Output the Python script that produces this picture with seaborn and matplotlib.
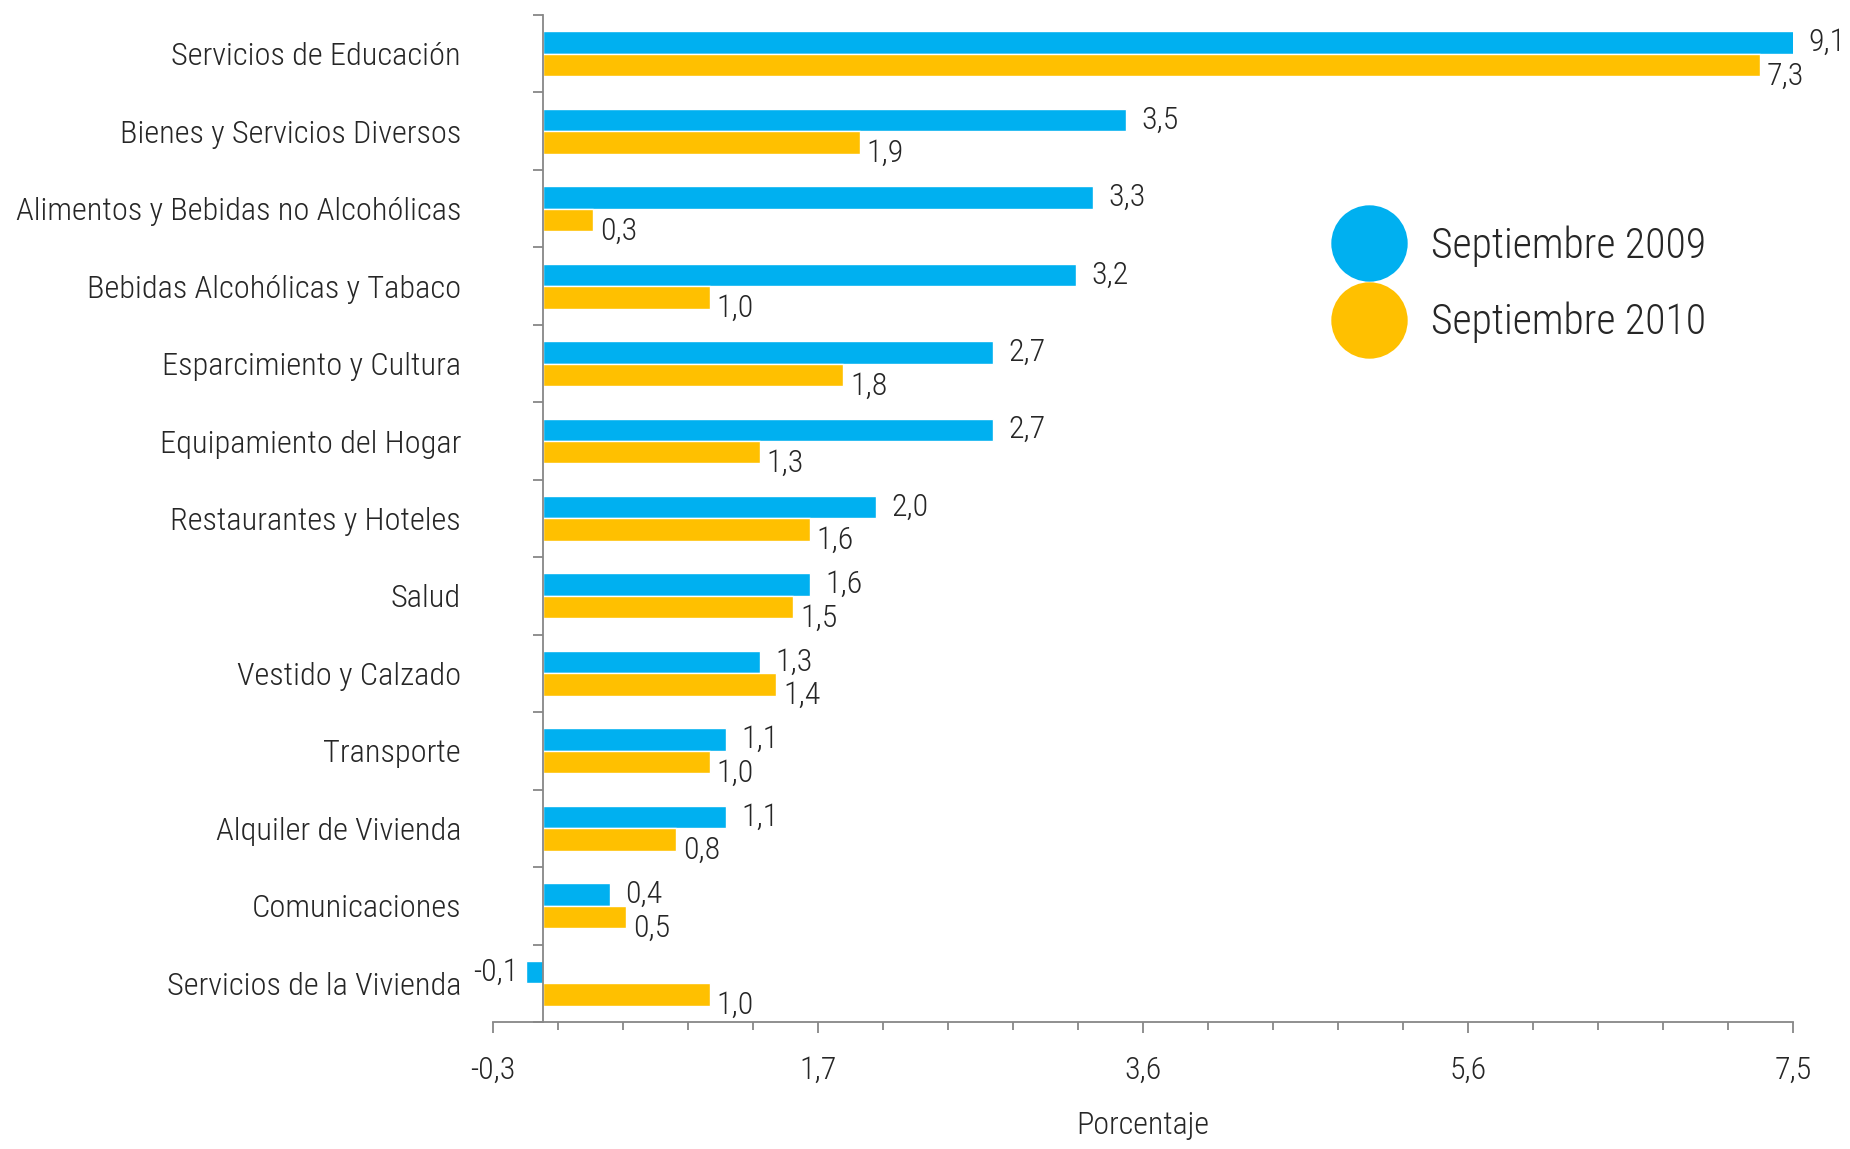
import numpy as np
import pandas as pd
import seaborn as sns
import matplotlib.pyplot as plt
from matplotlib.lines import Line2D

# data
categorias = ["Servicios de Educación", "Bienes y Servicios Diversos",
              "Alimentos y Bebidas no Alcohólicas", "Bebidas Alcohólicas y Tabaco",
              "Esparcimiento y Cultura", "Equipamiento del Hogar",
              "Restaurantes y Hoteles", "Salud", "Vestido y Calzado", "Transporte",
              "Alquiler de Vivienda", "Comunicaciones", "Servicios de la Vivienda"]
sep_2009 = [9.1, 3.5, 3.3, 3.2, 2.7, 2.7, 2.0, 1.6, 1.3, 1.1, 1.1, 0.4, -0.1]
sep_2010 = [7.3, 1.9, 0.3, 1.0, 1.8, 1.3, 1.6, 1.5, 1.4, 1.0, 0.8, 0.5, 1.0]
series = ["Septiembre 2009", "Septiembre 2010"]
xtick_labels = ["-0,3", "1,7", "3,6", "5,6", "7,5"]
x_min, x_max = -0.3, 7.5

azul, amarillo = "#00B0F0", "#FFC000"

sns.set_theme(style="white")
plt.rcParams["font.family"] = ["Roboto Condensed", "DejaVu Sans"]
plt.rcParams["font.weight"] = "light"
plt.rcParams["axes.labelweight"] = "light"

df = pd.DataFrame({
    "categoria": categorias * 2,
    "serie": [series[0]] * len(categorias) + [series[1]] * len(categorias),
    "valor": sep_2009 + sep_2010,
})

fig = plt.figure(figsize=(18.5, 11.49), dpi=100)
ax = fig.add_axes([0.2665, 0.1105, 0.7027, 0.8765])
sns.barplot(data=df, y="categoria", x="valor", hue="serie", orient="h",
            palette=[azul, amarillo], width=0.58, saturation=1, legend=False, ax=ax)

ax.set_xlim(x_min, x_max)
ax.set_ylim(len(categorias) - 0.5, -0.5)

gris = "#878787"
for s in ["top", "right"]:
    ax.spines[s].set_visible(False)
ax.spines["left"].set_position(("data", 0))
for s in ["left", "bottom"]:
    ax.spines[s].set_color(gris)
    ax.spines[s].set_linewidth(1.3)

# y: labels at centres, tick marks at category boundaries
ax.set_yticks(np.arange(len(categorias)))
ax.set_yticklabels(categorias)
ax.set_yticks(np.arange(-0.5, len(categorias), 1), minor=True)
ax.tick_params(axis="y", which="major", length=0, pad=59, labelsize=23.3)
ax.tick_params(axis="y", which="minor", length=7, width=1.3, color=gris, left=True)

ax.set_xticks(np.linspace(x_min, x_max, 5))
ax.set_xticklabels(xtick_labels)
ax.set_xticks(np.linspace(x_min, x_max, 21), minor=True)
ax.tick_params(axis="x", which="major", length=8, width=1.3, color=gris, pad=16,
               labelsize=23, bottom=True)
ax.tick_params(axis="x", which="minor", length=6, width=1.3, color=gris, bottom=True)
ax.set_xlabel("Porcentaje", fontsize=23, labelpad=19)
ax.set_ylabel("")

# value labels
for cont, dy, dx in zip(ax.containers, [0, -8], [11, 5]):
    for bar, v in zip(cont, cont.datavalues):
        y = bar.get_y() + bar.get_height() / 2
        txt = f"{v:.1f}".replace(".", ",")
        if v < 0:
            ax.annotate(txt, (v, y), xytext=(-6, 0), textcoords="offset points",
                        ha="right", va="center", fontsize=23, annotation_clip=False)
        else:
            ax.annotate(txt, (min(v, x_max), y), xytext=(dx, dy),
                        textcoords="offset points", ha="left", va="center",
                        fontsize=23, annotation_clip=False)

handles = [Line2D([], [], marker="o", ls="", markersize=55, color=c, mec="none")
           for c in [azul, amarillo]]
fig.legend(handles, series, loc="center left", bbox_to_anchor=(0.708, 0.7524),
           frameon=False, fontsize=30, borderpad=0, handlelength=1.85,
           handletextpad=0.55, labelspacing=0.84)

fig.savefig("out.png", dpi=100)
